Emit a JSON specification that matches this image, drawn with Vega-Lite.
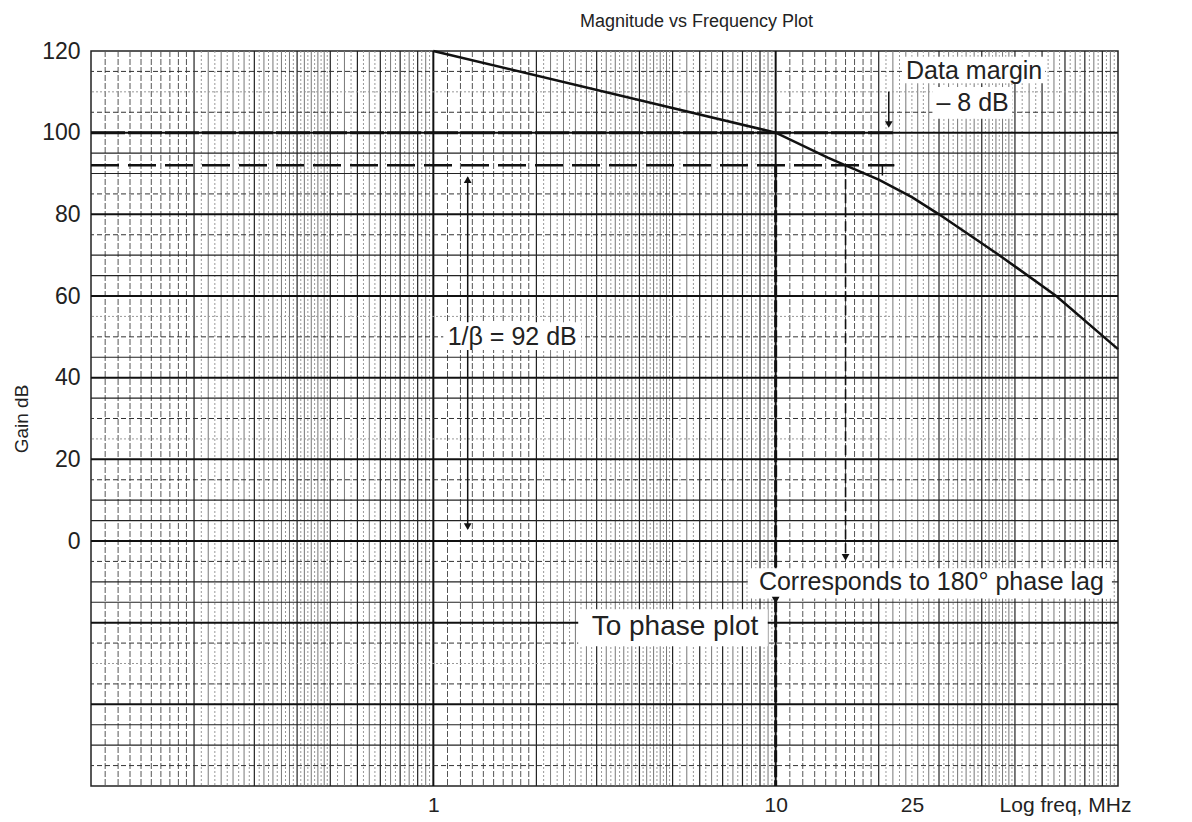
{
  "$schema": "https://vega.github.io/schema/vega-lite/v6.json",
  "width": 1027,
  "height": 735,
  "autosize": {"type": "none"},
  "padding": {"left": 91, "top": 51, "right": 74, "bottom": 36},
  "background": "white",
  "config": {"font": "Liberation Sans", "view": {"stroke": "#222", "strokeWidth": 1.5}},
  "title": {"text": "Magnitude vs Frequency Plot", "fontSize": 18, "fontWeight": "normal", "color": "#222", "dx": 92, "offset": 9, "anchor": "middle"},
  "datasets": {
    "gDec": [{"f": 1}, {"f": 10}],
    "gInt": [{"f": 0.2}, {"f": 0.3}, {"f": 0.4}, {"f": 0.5}, {"f": 0.6}, {"f": 0.7}, {"f": 0.8}, {"f": 0.9}, {"f": 2}, {"f": 3}, {"f": 4}, {"f": 5}, {"f": 6}, {"f": 7}, {"f": 8}, {"f": 9}, {"f": 20}, {"f": 30}, {"f": 40}, {"f": 50}, {"f": 60}, {"f": 70}, {"f": 80}, {"f": 90}],
    "gTen": [{"f": 0.11}, {"f": 0.12}, {"f": 0.13}, {"f": 0.14}, {"f": 0.15}, {"f": 0.16}, {"f": 0.17}, {"f": 0.18}, {"f": 0.19}, {"f": 1.1}, {"f": 1.2}, {"f": 1.3}, {"f": 1.4}, {"f": 1.5}, {"f": 1.6}, {"f": 1.7}, {"f": 1.8}, {"f": 1.9}, {"f": 11}, {"f": 12}, {"f": 13}, {"f": 14}, {"f": 15}, {"f": 16}, {"f": 17}, {"f": 18}, {"f": 19}],
    "gSec": [{"f": 0.22}, {"f": 0.24}, {"f": 0.26}, {"f": 0.28}, {"f": 0.32}, {"f": 0.34}, {"f": 0.36}, {"f": 0.38}, {"f": 0.42}, {"f": 0.44}, {"f": 0.46}, {"f": 0.48}, {"f": 0.55}, {"f": 0.65}, {"f": 0.75}, {"f": 0.85}, {"f": 0.95},
             {"f": 2.2}, {"f": 2.4}, {"f": 2.6}, {"f": 2.8}, {"f": 3.2}, {"f": 3.4}, {"f": 3.6}, {"f": 3.8}, {"f": 4.2}, {"f": 4.4}, {"f": 4.6}, {"f": 4.8}, {"f": 5.5}, {"f": 6.5}, {"f": 7.5}, {"f": 8.5}, {"f": 9.5},
             {"f": 22}, {"f": 24}, {"f": 26}, {"f": 28}, {"f": 32}, {"f": 34}, {"f": 36}, {"f": 38}, {"f": 42}, {"f": 44}, {"f": 46}, {"f": 48}, {"f": 55}, {"f": 65}, {"f": 75}, {"f": 85}, {"f": 95}],
    "gFine": [{"f": 0.21}, {"f": 0.23}, {"f": 0.25}, {"f": 0.27}, {"f": 0.29}, {"f": 0.31}, {"f": 0.33}, {"f": 0.35}, {"f": 0.37}, {"f": 0.39}, {"f": 0.41}, {"f": 0.43}, {"f": 0.45}, {"f": 0.47}, {"f": 0.49}, {"f": 0.525}, {"f": 0.575}, {"f": 0.625}, {"f": 0.675}, {"f": 0.725}, {"f": 0.775}, {"f": 0.825}, {"f": 0.875}, {"f": 0.925}, {"f": 0.975},
              {"f": 2.1}, {"f": 2.3}, {"f": 2.5}, {"f": 2.7}, {"f": 2.9}, {"f": 3.1}, {"f": 3.3}, {"f": 3.5}, {"f": 3.7}, {"f": 3.9}, {"f": 4.1}, {"f": 4.3}, {"f": 4.5}, {"f": 4.7}, {"f": 4.9}, {"f": 5.25}, {"f": 5.75}, {"f": 6.25}, {"f": 6.75}, {"f": 7.25}, {"f": 7.75}, {"f": 8.25}, {"f": 8.75}, {"f": 9.25}, {"f": 9.75},
              {"f": 21}, {"f": 23}, {"f": 25}, {"f": 27}, {"f": 29}, {"f": 31}, {"f": 33}, {"f": 35}, {"f": 37}, {"f": 39}, {"f": 41}, {"f": 43}, {"f": 45}, {"f": 47}, {"f": 49}, {"f": 52.5}, {"f": 57.5}, {"f": 62.5}, {"f": 67.5}, {"f": 72.5}, {"f": 77.5}, {"f": 82.5}, {"f": 87.5}, {"f": 92.5}, {"f": 97.5}],
    "hMaj": [{"db": -40}, {"db": -20}, {"db": 0}, {"db": 20}, {"db": 40}, {"db": 60}, {"db": 80}, {"db": 100}],
    "hSol": [{"db": 95}, {"db": 90}, {"db": 70}, {"db": 65}, {"db": 45}, {"db": 35}, {"db": 10}, {"db": 5}, {"db": -10}, {"db": -15}, {"db": -45}, {"db": -50}],
    "hDash": [{"db": 115}, {"db": 105}, {"db": 85}, {"db": 75}, {"db": 50}, {"db": 30}, {"db": 15}, {"db": -5}, {"db": -25}, {"db": -35}, {"db": -55}],
    "hDot": [{"db": 110}, {"db": 55}, {"db": 25}, {"db": -30}],
    "l100": [{"f": 0.1, "f2": 22, "db": 100}],
    "l92": [{"f": 0.1, "f2": 22.2, "db": 92}],
    "curve": [{"f": 1, "db": 120}, {"f": 10, "db": 100}, {"f": 14.2, "db": 93.9}, {"f": 16, "db": 92}, {"f": 20, "db": 88.5}, {"f": 25, "db": 84.2}, {"f": 30, "db": 80}, {"f": 45, "db": 70}, {"f": 66, "db": 60}, {"f": 100, "db": 47}],
    "vThick": [{"f": 10, "db": 92, "db2": -60}],
    "vDash": [{"f": 16, "db": 92, "db2": -3}],
    "vSolid": [{"f": 1.26, "db": 89, "db2": 3}, {"f": 21.4, "db": 110, "db2": 102}, {"f": 20.5, "db": 92, "db2": 89.5}],
    "tick": [{"f": 20, "f2": 22.2, "db": 92}],
    "arrDown": [{"f": 10, "db": -14.5}, {"f": 16, "db": -4}, {"f": 1.26, "db": 3.5}, {"f": 21.4, "db": 102}],
    "arrUp": [{"f": 1.26, "db": 88.5}],
    "boxes": [
      {"f": 1.069, "f2": 2.70, "db": 53.6, "db2": 46.8},
      {"f": 23.5, "f2": 61.3, "db": 118.6, "db2": 112.1},
      {"f": 28.7, "f2": 49.1, "db": 111.2, "db2": 103.4},
      {"f": 8.29, "f2": 96, "db": -6.7, "db2": -14.1},
      {"f": 2.65, "f2": 9.48, "db": -16.7, "db2": -25.8}
    ],
    "texts": [
      {"f": 1.70, "db": 50, "t": "1/β = 92 dB"},
      {"f": 38, "db": 115, "t": "Data margin"},
      {"f": 37.6, "db": 107.2, "t": "– 8 dB"},
      {"f": 28.5, "db": -10, "t": "Corresponds to 180° phase lag"}
    ],
    "textBig": [{"f": 5.08, "db": -21.1, "t": "To phase plot"}]
  },
  "encoding": {
    "x": {
      "field": "f", "type": "quantitative",
      "scale": {"type": "log", "domain": [0.1, 100], "nice": false},
      "axis": {"values": [1, 10, 25, 70], "labelExpr": "datum.value == 70 ? 'Log freq, MHz' : '' + datum.value", "grid": false, "domain": false, "ticks": false, "labelFontSize": 21, "labelPadding": 8, "labelColor": "#222", "labelFlush": false, "labelOverlap": false, "title": null}
    }
  },
  "layer": [
    {"data": {"name": "gFine"}, "mark": {"type": "rule", "color": "#999", "strokeWidth": 1, "strokeDash": [2, 2]}},
    {"data": {"name": "gSec"}, "mark": {"type": "rule", "color": "#777", "strokeWidth": 1}},
    {"data": {"name": "gTen"}, "mark": {"type": "rule", "color": "#555", "strokeWidth": 1, "strokeDash": [6, 2]}},
    {"data": {"name": "gInt"}, "mark": {"type": "rule", "color": "#222", "strokeWidth": 1.2}},
    {"data": {"name": "gDec"}, "mark": {"type": "rule", "color": "#111", "strokeWidth": 2}},
    {"data": {"name": "hDot"}, "mark": {"type": "rule", "color": "#999", "strokeWidth": 1, "strokeDash": [2, 2]},
     "encoding": {"x": null, "y": {"field": "db", "type": "quantitative", "scale": {"domain": [-60, 120], "nice": false, "zero": false}, "axis": {"values": [0, 20, 40, 60, 80, 100, 120], "grid": false, "domain": false, "ticks": false, "labelFontSize": 23, "labelPadding": 11, "labelColor": "#222", "title": "Gain dB", "titleFontSize": 19, "titleFontWeight": "normal", "titleColor": "#222", "titlePadding": 10}}}},
    {"data": {"name": "hDash"}, "mark": {"type": "rule", "color": "#333", "strokeWidth": 1, "strokeDash": [5, 3]},
     "encoding": {"x": null, "y": {"field": "db", "type": "quantitative"}}},
    {"data": {"name": "hSol"}, "mark": {"type": "rule", "color": "#222", "strokeWidth": 1.2},
     "encoding": {"x": null, "y": {"field": "db", "type": "quantitative"}}},
    {"data": {"name": "hMaj"}, "mark": {"type": "rule", "color": "#111", "strokeWidth": 2},
     "encoding": {"x": null, "y": {"field": "db", "type": "quantitative"}}},
    {"data": {"name": "l100"}, "mark": {"type": "rule", "color": "#111", "strokeWidth": 3, "strokeDash": [34, 3]},
     "encoding": {"x2": {"field": "f2"}, "y": {"field": "db", "type": "quantitative"}}},
    {"data": {"name": "l92"}, "mark": {"type": "rule", "color": "#111", "strokeWidth": 2.5, "strokeDash": [28, 9]},
     "encoding": {"x2": {"field": "f2"}, "y": {"field": "db", "type": "quantitative"}}},
    {"data": {"name": "tick"}, "mark": {"type": "rule", "color": "#111", "strokeWidth": 1.5},
     "encoding": {"x2": {"field": "f2"}, "y": {"field": "db", "type": "quantitative"}}},
    {"data": {"name": "curve"}, "mark": {"type": "line", "color": "#111", "strokeWidth": 2.5},
     "encoding": {"y": {"field": "db", "type": "quantitative"}}},
    {"data": {"name": "vThick"}, "mark": {"type": "rule", "color": "#111", "strokeWidth": 3, "strokeDash": [12, 3]},
     "encoding": {"y": {"field": "db", "type": "quantitative"}, "y2": {"field": "db2"}}},
    {"data": {"name": "vDash"}, "mark": {"type": "rule", "color": "#111", "strokeWidth": 1.6, "strokeDash": [10, 4]},
     "encoding": {"y": {"field": "db", "type": "quantitative"}, "y2": {"field": "db2"}}},
    {"data": {"name": "vSolid"}, "mark": {"type": "rule", "color": "#111", "strokeWidth": 1.5},
     "encoding": {"y": {"field": "db", "type": "quantitative"}, "y2": {"field": "db2"}}},
    {"data": {"name": "boxes"}, "mark": {"type": "rect", "fill": "white", "stroke": null},
     "encoding": {"x2": {"field": "f2"}, "y": {"field": "db", "type": "quantitative"}, "y2": {"field": "db2"}}},
    {"data": {"name": "arrDown"}, "mark": {"type": "point", "shape": "triangle-down", "filled": true, "color": "#111", "size": 60, "opacity": 1},
     "encoding": {"y": {"field": "db", "type": "quantitative"}}},
    {"data": {"name": "arrUp"}, "mark": {"type": "point", "shape": "triangle-up", "filled": true, "color": "#111", "size": 60, "opacity": 1},
     "encoding": {"y": {"field": "db", "type": "quantitative"}}},
    {"data": {"name": "texts"}, "mark": {"type": "text", "fontSize": 25, "color": "#222", "align": "center", "baseline": "middle"},
     "encoding": {"y": {"field": "db", "type": "quantitative"}, "text": {"field": "t"}}},
    {"data": {"name": "textBig"}, "mark": {"type": "text", "fontSize": 28, "color": "#222", "align": "center", "baseline": "middle"},
     "encoding": {"y": {"field": "db", "type": "quantitative"}, "text": {"field": "t"}}}
  ]
}
